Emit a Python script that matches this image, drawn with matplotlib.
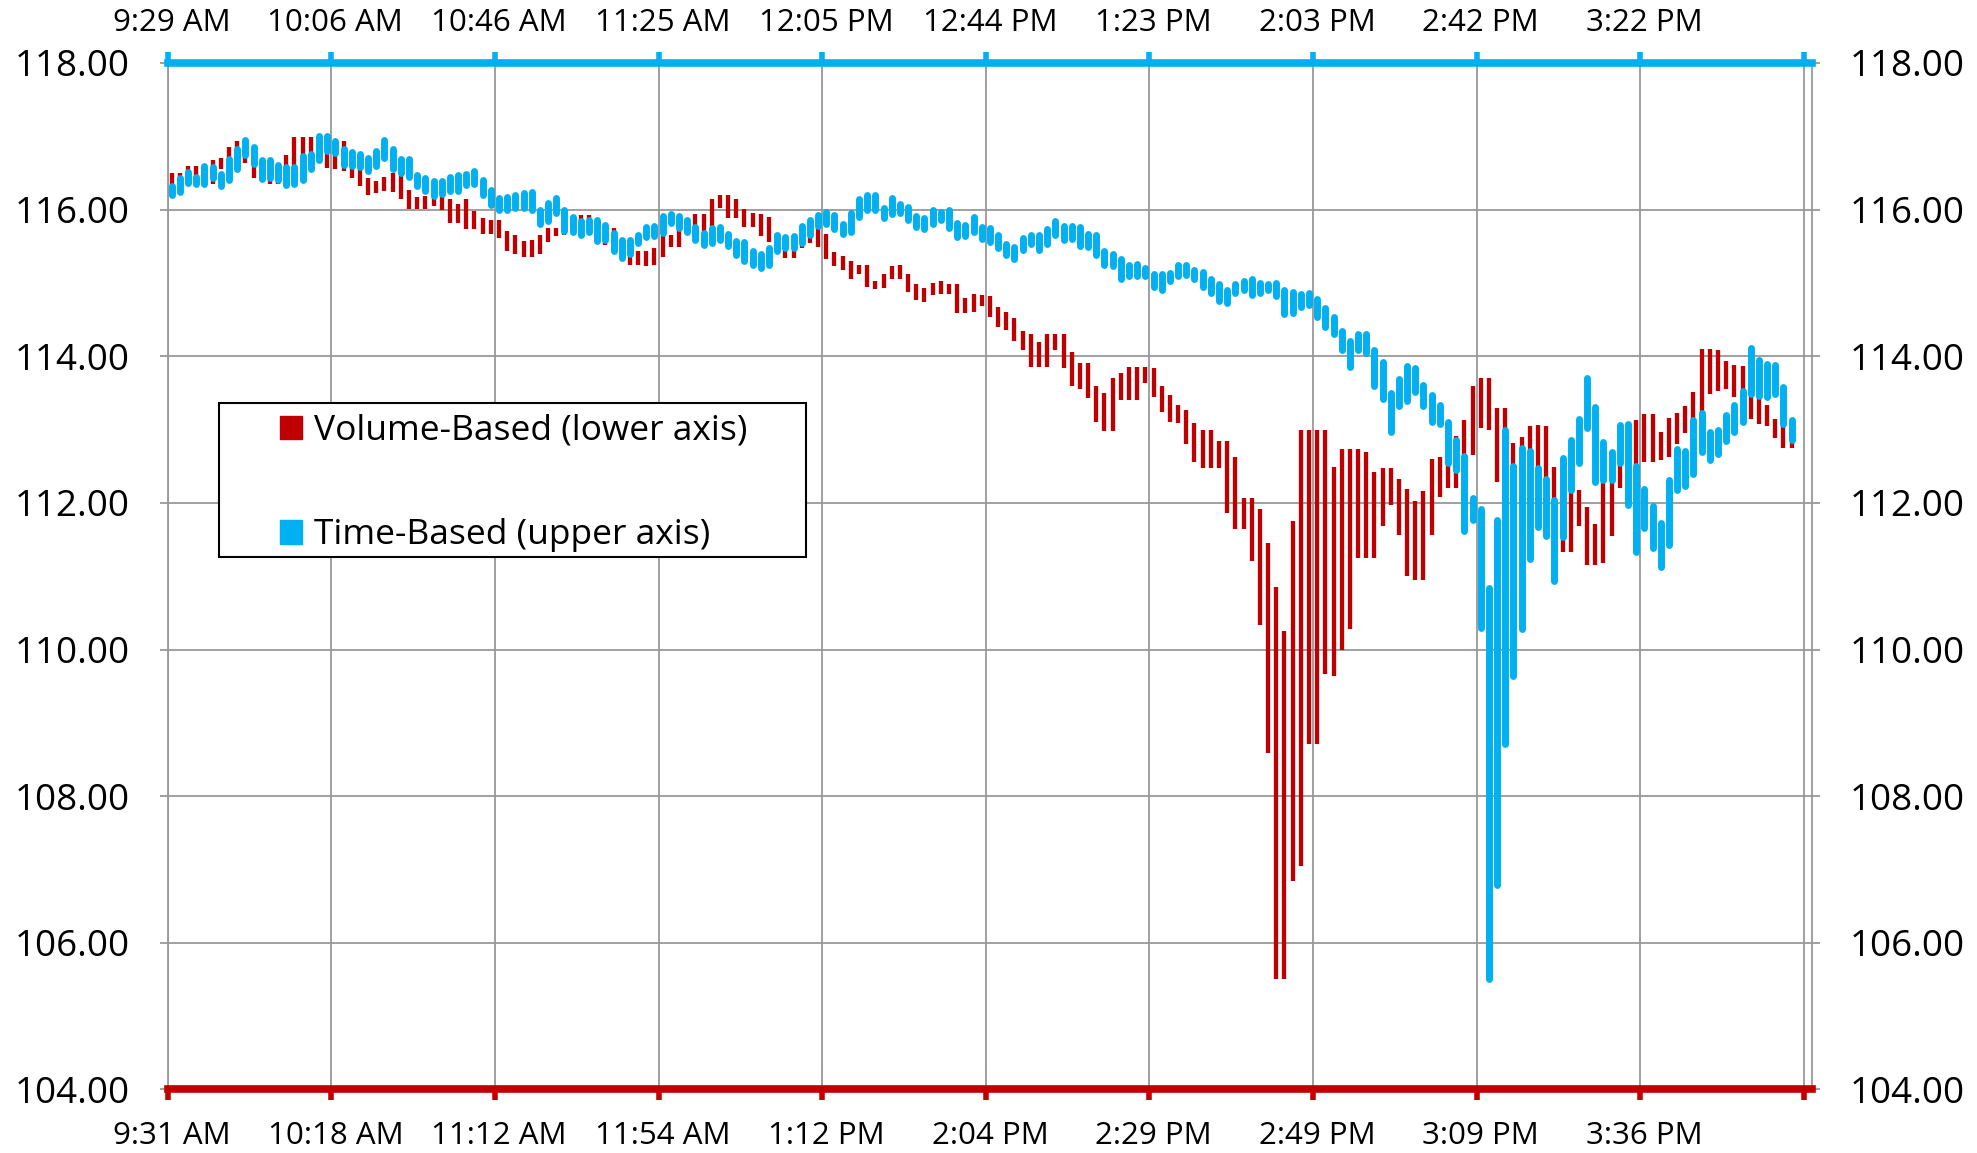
import numpy as np
import matplotlib
matplotlib.use('Agg')
import matplotlib.pyplot as plt
from matplotlib.patches import Patch, Rectangle
from matplotlib.ticker import FormatStrFormatter

plt.rcParams['font.family'] = ['Open Sans', 'DejaVu Sans']

RED = '#C00000'
BLUE = '#00B0F0'
GRID = '#999999'

# volume-based bars (lower axis), high / low
vol_high = [116.50, 116.50, 116.59, 116.59, 116.55, 116.68, 116.70, 116.85, 116.94, 116.85,
            116.64, 116.61, 116.62, 116.48, 116.75, 116.99, 116.99, 116.99, 116.89, 116.77,
            116.94, 116.94, 116.64, 116.57, 116.43, 116.39, 116.44, 116.50, 116.50, 116.27,
            116.17, 116.18, 116.20, 116.20, 116.14, 116.08, 116.14, 115.98, 115.89, 115.86,
            115.86, 115.71, 115.66, 115.57, 115.58, 115.66, 115.75, 115.75, 115.76, 115.85,
            115.92, 115.92, 115.75, 115.75, 115.75, 115.60, 115.43, 115.43, 115.43, 115.47,
            115.65, 115.65, 115.75, 115.89, 115.94, 115.94, 116.15, 116.20, 116.20, 116.15,
            116.01, 115.95, 115.94, 115.90, 115.68, 115.55, 115.64, 115.65, 115.76, 115.76,
            115.67, 115.42, 115.37, 115.30, 115.25, 115.25, 115.03, 115.12, 115.23, 115.24,
            115.12, 114.99, 114.93, 115.00, 115.03, 114.98, 114.99, 114.80, 114.85, 114.84,
            114.82, 114.67, 114.61, 114.52, 114.34, 114.30, 114.20, 114.30, 114.30, 114.30,
            114.06, 113.91, 113.91, 113.60, 113.50, 113.70, 113.77, 113.86, 113.86, 113.86,
            113.84, 113.60, 113.47, 113.33, 113.27, 113.09, 112.99, 112.99, 112.85, 112.85,
            112.62, 112.07, 112.07, 111.91, 111.45, 110.85, 110.25, 111.75, 112.99, 112.99,
            112.99, 112.99, 112.49, 112.74, 112.74, 112.74, 112.69, 112.42, 112.47, 112.47,
            112.32, 112.19, 112.02, 112.16, 112.60, 112.63, 112.71, 112.91, 113.13, 113.59,
            113.70, 113.70, 113.30, 113.30, 112.81, 112.90, 113.05, 113.06, 113.05, 112.49,
            112.15, 112.17, 112.17, 111.94, 111.71, 112.33, 112.69, 112.90, 113.05, 113.13,
            113.21, 113.21, 112.97, 113.16, 113.23, 113.32, 113.51, 114.10, 114.10, 114.09,
            113.94, 113.88, 113.87, 113.50, 113.46, 113.34, 113.14, 113.07, 113.05]
vol_low = [116.30, 116.39, 116.48, 116.45, 116.33, 116.35, 116.55, 116.61, 116.73, 116.64,
           116.43, 116.43, 116.35, 116.35, 116.57, 116.55, 116.73, 116.77, 116.63, 116.57,
           116.55, 116.52, 116.43, 116.32, 116.20, 116.23, 116.25, 116.24, 116.14, 116.01,
           116.01, 116.01, 116.05, 116.00, 115.82, 115.82, 115.73, 115.73, 115.67, 115.67,
           115.61, 115.44, 115.40, 115.35, 115.35, 115.40, 115.56, 115.64, 115.65, 115.68,
           115.68, 115.80, 115.55, 115.52, 115.41, 115.38, 115.25, 115.25, 115.23, 115.24,
           115.36, 115.49, 115.49, 115.68, 115.70, 115.68, 115.77, 116.02, 115.88, 115.88,
           115.76, 115.76, 115.64, 115.56, 115.48, 115.34, 115.34, 115.47, 115.55, 115.49,
           115.33, 115.23, 115.18, 115.06, 115.12, 114.94, 114.92, 114.93, 115.05, 115.05,
           114.88, 114.77, 114.74, 114.84, 114.85, 114.85, 114.59, 114.59, 114.60, 114.68,
           114.53, 114.40, 114.36, 114.21, 114.09, 113.86, 113.86, 113.86, 114.09, 113.84,
           113.60, 113.56, 113.43, 113.11, 112.98, 112.98, 113.41, 113.41, 113.41, 113.64,
           113.45, 113.24, 113.11, 113.09, 112.80, 112.56, 112.48, 112.48, 112.48, 111.86,
           111.64, 111.64, 111.21, 110.33, 108.59, 105.50, 105.50, 106.85, 107.05, 108.71,
           108.71, 109.66, 109.64, 110.00, 110.28, 111.25, 111.25, 111.25, 111.68, 111.97,
           111.56, 111.00, 110.95, 110.95, 111.56, 112.08, 112.20, 112.20, 112.66, 112.65,
           113.02, 112.99, 112.29, 112.52, 112.49, 112.50, 112.49, 112.31, 112.31, 111.95,
           111.33, 111.33, 111.68, 111.15, 111.15, 111.18, 111.55, 112.20, 112.54, 112.52,
           112.56, 112.56, 112.58, 112.63, 112.80, 112.95, 113.10, 113.22, 113.48, 113.52,
           113.55, 113.45, 113.51, 113.14, 113.08, 113.05, 112.88, 112.75, 112.75]

# time-based bars (upper axis), high / low
time_high = [116.32, 116.43, 116.51, 116.45, 116.59, 116.58, 116.49, 116.69, 116.83, 116.95,
             116.86, 116.68, 116.68, 116.61, 116.58, 116.58, 116.73, 116.76, 117.00, 117.01,
             116.94, 116.82, 116.79, 116.76, 116.70, 116.80, 116.95, 116.82, 116.69, 116.69,
             116.47, 116.43, 116.39, 116.39, 116.45, 116.47, 116.49, 116.52, 116.41, 116.27,
             116.16, 116.17, 116.20, 116.23, 116.24, 116.00, 116.09, 116.16, 115.99, 115.90,
             115.85, 115.86, 115.86, 115.79, 115.68, 115.59, 115.59, 115.66, 115.76, 115.77,
             115.91, 115.94, 115.91, 115.86, 115.76, 115.68, 115.75, 115.76, 115.67, 115.57,
             115.56, 115.44, 115.40, 115.48, 115.65, 115.62, 115.64, 115.77, 115.86, 115.93,
             115.97, 115.92, 115.80, 115.95, 116.15, 116.20, 116.20, 116.02, 116.16, 116.08,
             116.03, 115.91, 115.89, 116.00, 115.97, 116.00, 115.82, 115.79, 115.90, 115.76,
             115.75, 115.65, 115.53, 115.49, 115.61, 115.65, 115.66, 115.73, 115.85, 115.77,
             115.77, 115.76, 115.67, 115.66, 115.43, 115.40, 115.33, 115.25, 115.26, 115.20,
             115.12, 115.12, 115.14, 115.25, 115.24, 115.18, 115.15, 115.06, 114.99, 114.90,
             114.98, 115.02, 115.05, 115.00, 114.99, 115.00, 114.90, 114.88, 114.85, 114.86,
             114.78, 114.66, 114.53, 114.35, 114.21, 114.31, 114.31, 114.08, 113.92, 113.50,
             113.69, 113.87, 113.84, 113.61, 113.47, 113.34, 113.10, 112.86, 112.64, 112.07,
             111.91, 110.84, 111.76, 112.99, 112.50, 112.75, 112.71, 112.48, 112.33, 112.04,
             112.61, 112.86, 113.15, 113.71, 113.31, 112.83, 112.69, 113.06, 113.08, 112.50,
             112.19, 111.96, 111.72, 112.31, 112.74, 112.71, 113.13, 113.22, 112.97, 113.00,
             113.20, 113.33, 113.52, 114.11, 113.95, 113.89, 113.88, 113.58, 113.13]
time_low = [116.20, 116.24, 116.36, 116.35, 116.35, 116.43, 116.32, 116.41, 116.55, 116.75,
            116.62, 116.42, 116.43, 116.41, 116.33, 116.35, 116.41, 116.55, 116.68, 116.80,
            116.77, 116.61, 116.59, 116.58, 116.53, 116.59, 116.70, 116.55, 116.50, 116.45,
            116.32, 116.26, 116.19, 116.21, 116.26, 116.26, 116.33, 116.35, 116.20, 116.06,
            116.00, 116.00, 116.02, 116.02, 116.00, 115.80, 115.84, 115.95, 115.71, 115.70,
            115.66, 115.70, 115.57, 115.59, 115.43, 115.34, 115.39, 115.55, 115.62, 115.64,
            115.68, 115.82, 115.75, 115.70, 115.58, 115.52, 115.55, 115.59, 115.50, 115.38,
            115.30, 115.24, 115.21, 115.25, 115.43, 115.48, 115.47, 115.55, 115.65, 115.77,
            115.80, 115.74, 115.67, 115.70, 115.90, 116.00, 116.00, 115.88, 115.94, 115.95,
            115.86, 115.76, 115.74, 115.80, 115.86, 115.75, 115.62, 115.64, 115.70, 115.60,
            115.56, 115.47, 115.38, 115.33, 115.45, 115.53, 115.45, 115.53, 115.65, 115.59,
            115.60, 115.51, 115.49, 115.38, 115.25, 115.23, 115.05, 115.10, 115.09, 115.09,
            114.94, 114.91, 115.03, 115.09, 115.11, 115.05, 114.95, 114.86, 114.75, 114.73,
            114.86, 114.90, 114.84, 114.86, 114.91, 114.82, 114.58, 114.59, 114.67, 114.70,
            114.53, 114.40, 114.31, 114.09, 113.85, 114.09, 114.05, 113.60, 113.42, 112.96,
            113.32, 113.39, 113.51, 113.32, 113.10, 113.07, 112.54, 112.45, 111.61, 111.77,
            110.30, 105.51, 106.79, 108.71, 109.64, 110.28, 111.24, 111.67, 111.55, 110.94,
            111.53, 112.17, 112.55, 113.02, 112.28, 112.31, 112.31, 112.55, 111.97, 111.33,
            111.66, 111.38, 111.13, 111.42, 112.18, 112.23, 112.40, 112.69, 112.58, 112.66,
            112.85, 112.96, 113.10, 113.48, 113.46, 113.45, 113.48, 113.07, 112.86]

lower_labels = ['9:31 AM', '10:18 AM', '11:12 AM', '11:54 AM', '1:12 PM',
                '2:04 PM', '2:29 PM', '2:49 PM', '3:09 PM', '3:36 PM']
upper_labels = ['9:29 AM', '10:06 AM', '10:46 AM', '11:25 AM', '12:05 PM',
                '12:44 PM', '1:23 PM', '2:03 PM', '2:42 PM', '3:22 PM']
y_ticks = [104, 106, 108, 110, 112, 114, 116, 118]

n_cat = 201
x = np.arange(len(vol_high)) + 0.5
major = np.arange(0, n_cat, 20)
minor = major[:-1] + 0.5

fig = plt.figure(figsize=(19.77, 11.53), dpi=100)
ax = fig.add_axes([0.0848, 0.0551, 0.8318, 0.8903])
ax.set_xlim(0, n_cat)
ax.set_ylim(104, 118)

ax.vlines(x, vol_low, vol_high, colors=RED, linewidth=3.1, capstyle='butt', zorder=3)
ax.vlines(x, time_low, time_high, colors=BLUE, linewidth=5.0, capstyle='round', zorder=4)

# grid and axes styling
ax.set_axisbelow(True)
ax.grid(which='major', color=GRID, linewidth=1.3)
ax.set_xticks(major, labels=[''] * len(major))
ax.set_xticks(minor, labels=lower_labels, minor=True)
ax.tick_params(axis='x', which='major', direction='out', length=8, width=4, color=RED)
ax.tick_params(axis='x', which='minor', length=0, pad=23, labelsize=22.5)
ax.set_yticks(y_ticks)
ax.yaxis.set_major_formatter(FormatStrFormatter('%.2f'))
ax.tick_params(axis='y', left=True, right=True, labelleft=True, labelright=True,
               direction='out', length=6, width=1.3, color=GRID, pad=21, labelsize=26.5)
ax.spines['bottom'].set_color(RED)
ax.spines['bottom'].set_linewidth(5.5)
ax.spines['top'].set_visible(False)
for s in ['left', 'right']:
    ax.spines[s].set_color(GRID)
    ax.spines[s].set_linewidth(1.3)

top = ax.twiny()
top.set_xlim(0, n_cat)
top.set_xticks(major, labels=[''] * len(major))
top.set_xticks(minor, labels=upper_labels, minor=True)
top.tick_params(axis='x', which='major', direction='out', length=8, width=4, color=BLUE)
top.tick_params(axis='x', which='minor', length=0, pad=18, labelsize=22.5)
for s in ['left', 'right', 'bottom']:
    top.spines[s].set_visible(False)
top.spines['top'].set_color(BLUE)
top.spines['top'].set_linewidth(5.5)

# legend box
ax.add_patch(Rectangle((0.0312, 0.519), 0.3568, 0.150, transform=ax.transAxes,
                       facecolor='white', edgecolor='black', linewidth=1.5, zorder=5))
handles = [Patch(facecolor=RED, edgecolor=RED, label='Volume-Based (lower axis)'),
           Patch(facecolor=BLUE, edgecolor=BLUE, label='Time-Based (upper axis)')]
leg = ax.legend(handles=handles, loc='center left', bbox_to_anchor=(0.0683, 0.5908),
                frameon=False, borderpad=0, borderaxespad=0, handlelength=0.63,
                handleheight=0.63, handletextpad=0.34, labelspacing=2.0, fontsize=25.5)
leg.set_zorder(6)

fig.savefig('out.png', dpi=100)
